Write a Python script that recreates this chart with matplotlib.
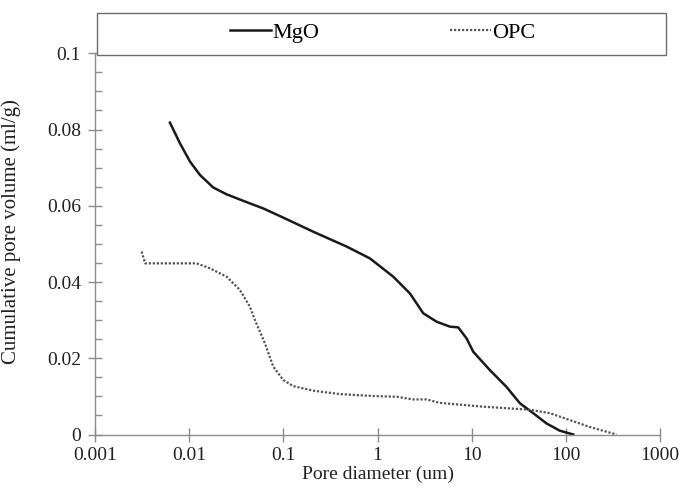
import matplotlib
matplotlib.use("Agg")
import matplotlib.pyplot as plt
from matplotlib.patches import Rectangle
from matplotlib.ticker import FixedLocator, FuncFormatter, NullLocator

plt.rcParams['font.family'] = ['Liberation Serif', 'DejaVu Serif']

# pore diameter (um) / cumulative pore volume (ml/g)
mgo_d = [0.00625, 0.00798, 0.0102, 0.0130, 0.0180, 0.0250, 0.0375, 0.0612,
         0.092, 0.2076, 0.470, 0.83, 1.47, 2.21, 3.06, 4.24, 5.87,
         7.20, 8.83, 10.4, 15.6, 23.4, 32.5, 45.0, 62.4, 86.3, 120]
mgo_v = [0.0818, 0.0764, 0.0716, 0.0681, 0.0648, 0.0630, 0.0613, 0.0593,
         0.0573, 0.0532, 0.0493, 0.0462, 0.0414, 0.0370, 0.0318,
         0.0296, 0.0283, 0.0281, 0.0252, 0.0217, 0.0169, 0.0125, 0.0082,
         0.0056, 0.0029, 0.0010, 0.0]

opc_d = [0.00313, 0.0034, 0.0120, 0.0166, 0.0250, 0.0346, 0.0442, 0.050,
         0.0638, 0.0782, 0.0998, 0.127, 0.208, 0.399, 0.90, 1.60, 2.39, 3.32,
         4.59, 13.2, 41.5, 67.6, 110, 178, 345]
opc_v = [0.0480, 0.0449, 0.0449, 0.0436, 0.0414, 0.0379, 0.0335, 0.0300,
         0.0239, 0.0178, 0.0143, 0.0127, 0.0115, 0.0106, 0.0101, 0.0099,
         0.0092, 0.0092, 0.0083, 0.0073, 0.0065, 0.0056, 0.0038, 0.0020, 0.0]

x_ticks = [0.001, 0.01, 0.1, 1, 10, 100, 1000]
y_ticks = [0, 0.02, 0.04, 0.06, 0.08, 0.1]

fig = plt.figure(figsize=(6.81, 4.88), dpi=100)
ax = fig.add_axes([0.1395, 0.1096, 0.8297, 0.7812])

ax.plot(mgo_d, mgo_v, color='#1a1a1a', lw=1.8, label='MgO')
ax.plot(opc_d, opc_v, color='#555555', lw=1.6, linestyle=(0, (1, 0.8)), label='OPC')

ax.set_xscale('log')
ax.set_xlim(0.001, 1000)
ax.set_ylim(0, 0.1)

ax.xaxis.set_major_locator(FixedLocator(x_ticks))
ax.xaxis.set_minor_locator(NullLocator())
ax.xaxis.set_major_formatter(FuncFormatter(lambda v, p: '%g' % v))
ax.yaxis.set_major_locator(FixedLocator(y_ticks))
ax.yaxis.set_minor_locator(FixedLocator([i * 0.005 for i in range(21)]))
ax.yaxis.set_major_formatter(FuncFormatter(lambda v, p: '%g' % v))

for s in ['top', 'right']:
    ax.spines[s].set_visible(False)
for s in ['left', 'bottom']:
    ax.spines[s].set_color('#8c8c8c')
    ax.spines[s].set_linewidth(1.0)

ax.tick_params(axis='both', which='major', direction='inout', length=10,
               width=1.0, color='#8c8c8c', labelsize=14, labelcolor='#222222')
ax.tick_params(axis='y', which='minor', direction='in', length=5,
               width=1.0, color='#8c8c8c')
ax.tick_params(axis='y', which='major', pad=5)
ax.tick_params(axis='x', which='major', pad=4)

ax.set_xlabel('Pore diameter (um)', fontsize=14, color='#222222')
ax.set_ylabel('Cumulative pore volume (ml/g)', fontsize=15, color='#222222')
ax.xaxis.set_label_coords(0.5, -0.082)
ax.yaxis.set_label_coords(-0.131, 0.532)

# legend box across the top
fig.patches.append(Rectangle((98 / 681, 1 - 56 / 488), 569 / 681, 42 / 488,
                             transform=fig.transFigure, facecolor='#bbbbbb',
                             edgecolor='none', zorder=0))
fig.patches.append(Rectangle((97 / 681, 1 - 55 / 488), 569 / 681, 42 / 488,
                             transform=fig.transFigure, facecolor='white',
                             edgecolor='#6e6e6e', lw=1.0, zorder=1))
fig.legend(loc='center', bbox_to_anchor=(383 / 681, 1 - 33 / 488), ncol=2,
           frameon=False, fontsize=16, handlelength=1.85, handletextpad=0.05,
           columnspacing=5.9)

fig.savefig('out.png', dpi=100)
